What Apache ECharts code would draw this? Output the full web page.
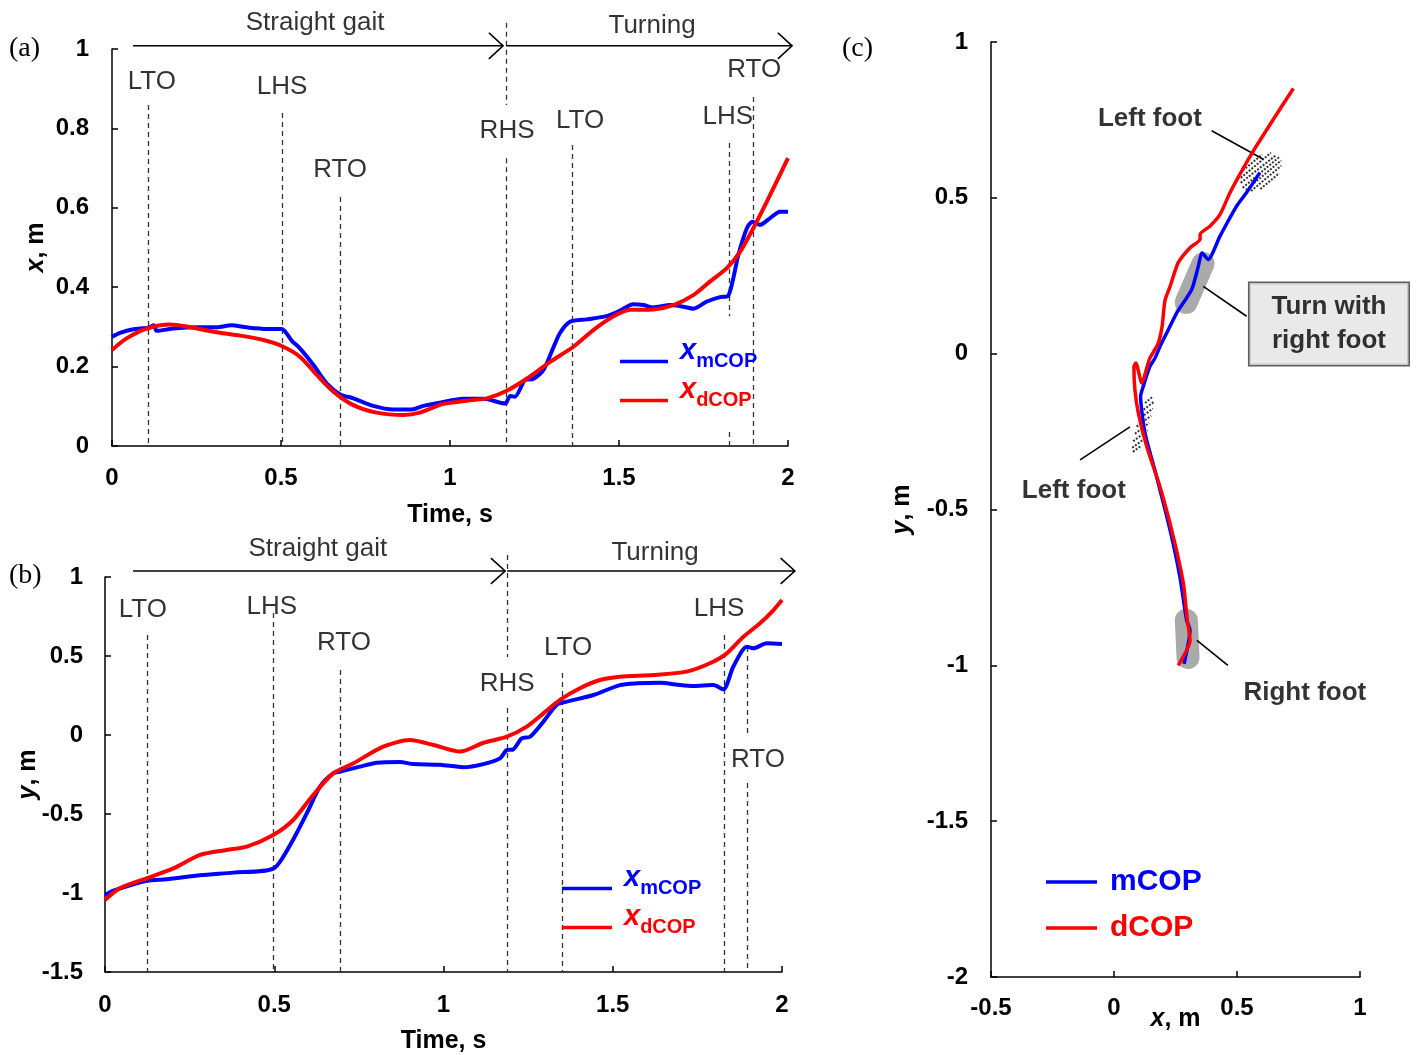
<!DOCTYPE html>
<html><head><meta charset="utf-8">
<script src="https://cdn.jsdelivr.net/npm/echarts/dist/echarts.min.js"></script>
<style>html,body{margin:0;padding:0;background:#fff}#c{width:1416px;height:1055px}</style>
</head><body><div id="c"></div>
<script>
// ---------- Panel (a): x of COP vs time ----------
const aTimeM = [0, 0.024, 0.063, 0.107, 0.124, 0.132, 0.181, 0.26, 0.31, 0.354, 0.398, 0.458, 0.502, 0.532, 0.556, 0.596, 0.635, 0.675, 0.714, 0.773, 0.832, 0.887, 0.921, 0.970, 1.039, 1.099, 1.163, 1.178, 1.192, 1.222, 1.246, 1.276, 1.301, 1.325, 1.355, 1.404, 1.463, 1.503, 1.542, 1.572, 1.601, 1.651, 1.690, 1.720, 1.760, 1.799, 1.823, 1.853, 1.878, 1.895, 1.917, 1.947, 1.976, 2.0];
const aXm = [0.275, 0.285, 0.294, 0.298, 0.304, 0.290, 0.296, 0.299, 0.299, 0.304, 0.299, 0.295, 0.295, 0.265, 0.246, 0.204, 0.158, 0.130, 0.120, 0.101, 0.092, 0.092, 0.101, 0.109, 0.119, 0.119, 0.107, 0.126, 0.124, 0.166, 0.169, 0.191, 0.238, 0.284, 0.313, 0.319, 0.327, 0.341, 0.357, 0.355, 0.349, 0.355, 0.351, 0.346, 0.364, 0.375, 0.378, 0.481, 0.548, 0.565, 0.557, 0.574, 0.590, 0.590];
const aTimeD = [0, 0.043, 0.103, 0.172, 0.221, 0.3, 0.379, 0.448, 0.502, 0.556, 0.606, 0.655, 0.714, 0.783, 0.862, 0.911, 0.98, 1.049, 1.109, 1.168, 1.237, 1.296, 1.365, 1.424, 1.483, 1.533, 1.601, 1.661, 1.720, 1.769, 1.819, 1.858, 1.897, 1.937, 1.976, 2.0];
const aXd = [0.242, 0.271, 0.296, 0.306, 0.301, 0.288, 0.278, 0.267, 0.252, 0.225, 0.179, 0.137, 0.103, 0.084, 0.078, 0.084, 0.106, 0.114, 0.120, 0.139, 0.175, 0.212, 0.250, 0.292, 0.326, 0.343, 0.344, 0.355, 0.380, 0.414, 0.448, 0.489, 0.548, 0.615, 0.683, 0.725];
// gait events (a): dashed line segments
const aEvtT   = [0.107, 0.503, 0.675, 1.166, 1.166, 1.361, 1.825, 1.825, 1.896];
const aEvtTop = [0.859, 0.839, 0.627, 1.066, 0.725, 0.758, 0.763, 0.035, 0.879];
const aEvtBot = [0, 0, 0, 0.859, 0, 0, 0.327, 0, 0];
const aLblText = ['LTO', 'LHS', 'RTO', 'RHS', 'LTO', 'LHS', 'RTO'];
const aLblT = [0.118, 0.503, 0.675, 1.169, 1.385, 1.822, 1.900];
const aLblV = [0.917, 0.904, 0.695, 0.793, 0.819, 0.829, 0.947];
const aPhaseText = ['Straight gait', 'Turning'];
const aPhaseT = [0.601, 1.598];
const aPhaseV = [1.066, 1.058];
const aArrowFrom = [0.062, 1.166];
const aArrowTo = [1.157, 2.012];
const aArrowV = 1.008;

// ---------- Panel (b): y of COP vs time ----------
const bTimeM = [0, 0.025, 0.123, 0.182, 0.281, 0.379, 0.497, 0.547, 0.596, 0.635, 0.674, 0.694, 0.753, 0.803, 0.871, 0.911, 0.99, 1.058, 1.118, 1.167, 1.187, 1.206, 1.231, 1.256, 1.295, 1.334, 1.364, 1.443, 1.521, 1.571, 1.64, 1.699, 1.738, 1.797, 1.827, 1.856, 1.896, 1.915, 1.955, 2.0];
const bYm = [-1.013, -0.985, -0.922, -0.913, -0.888, -0.871, -0.846, -0.696, -0.496, -0.327, -0.243, -0.232, -0.200, -0.175, -0.171, -0.184, -0.188, -0.204, -0.184, -0.148, -0.095, -0.091, -0.021, -0.011, 0.084, 0.190, 0.211, 0.253, 0.316, 0.327, 0.331, 0.316, 0.310, 0.316, 0.289, 0.432, 0.559, 0.549, 0.580, 0.576];
const bTimeD = [0, 0.044, 0.123, 0.202, 0.281, 0.359, 0.419, 0.497, 0.556, 0.615, 0.674, 0.734, 0.822, 0.901, 0.970, 1.049, 1.118, 1.187, 1.246, 1.295, 1.344, 1.403, 1.462, 1.521, 1.620, 1.718, 1.787, 1.837, 1.886, 1.935, 1.975, 2.0];
const bYd = [-1.044, -0.970, -0.907, -0.844, -0.759, -0.728, -0.707, -0.633, -0.538, -0.380, -0.243, -0.179, -0.074, -0.032, -0.063, -0.105, -0.049, -0.011, 0.053, 0.137, 0.222, 0.296, 0.348, 0.369, 0.380, 0.401, 0.454, 0.517, 0.622, 0.707, 0.791, 0.854];
const bEvtT   = [0.124, 0.496, 0.694, 1.188, 1.188, 1.350, 1.829, 1.897, 1.897];
const bEvtTop = [0.633, 0.772, 0.411, 1.139, 0.171, 0.392, 0.633, 0.557, -0.304];
const bEvtBot = [-1.5, -1.5, -1.5, 0.494, -1.5, -1.5, -1.5, 0.013, -1.5];
const bLblText = ['LTO', 'LHS', 'RTO', 'RHS', 'LTO', 'LHS', 'RTO'];
const bLblT = [0.112, 0.493, 0.706, 1.188, 1.368, 1.814, 1.929];
const bLblV = [0.791, 0.810, 0.582, 0.323, 0.551, 0.797, -0.158];
const bPhaseText = ['Straight gait', 'Turning'];
const bPhaseT = [0.629, 1.625];
const bPhaseV = [1.180, 1.155];
const bArrowFrom = [0.083, 1.188];
const bArrowTo = [1.182, 2.038];
const bArrowV = 1.038;

// ---------- Panel (c): COP trajectory in the plane ----------
const cXm = [0.285, 0.309, 0.295, 0.268, 0.228, 0.173, 0.126, 0.108, 0.119, 0.146, 0.167, 0.187, 0.221, 0.255, 0.316, 0.343, 0.357, 0.370, 0.383, 0.431, 0.499, 0.539, 0.593];
const cYm = [-0.995, -0.887, -0.855, -0.716, -0.566, -0.394, -0.255, -0.137, -0.105, -0.041, -0.014, 0.023, 0.077, 0.131, 0.206, 0.281, 0.324, 0.313, 0.302, 0.377, 0.474, 0.517, 0.581];
const cXd = [0.261, 0.309, 0.298, 0.282, 0.241, 0.187, 0.133, 0.099, 0.085, 0.081, 0.089, 0.113, 0.139, 0.146, 0.180, 0.196, 0.207, 0.228, 0.261, 0.309, 0.350, 0.350, 0.390, 0.431, 0.472, 0.512, 0.566, 0.648, 0.729];
const cYd = [-1.0, -0.92, -0.855, -0.737, -0.587, -0.427, -0.298, -0.191, -0.116, -0.041, -0.030, -0.094, -0.030, -0.014, 0.034, 0.090, 0.170, 0.216, 0.292, 0.340, 0.367, 0.383, 0.409, 0.447, 0.517, 0.576, 0.650, 0.752, 0.851];
const cNoteText = ['Left foot', 'Left foot', 'Right foot'];
const cNoteX = [0.146, -0.163, 0.776];
const cNoteY = [0.752, -0.441, -1.087];
const cBoxText = 'Turn with\nright foot';
const cBoxX = 0.874, cBoxY = 0.095;
const cLeaders = [
  [[0.397, 0.715], [0.607, 0.624]],
  [[0.539, 0.120], [0.363, 0.216]],
  [[-0.138, -0.341], [0.065, -0.235]],
  [[0.463, -1.0], [0.337, -0.92]]
];
const cFootprints = [
  [[0.293, 0.164], [0.362, 0.289]],
  [[0.301, -0.975], [0.294, -0.855]]
];
const cHatch = [
  [[0.524, 0.588], [0.602, 0.639]], [[0.515, 0.564], [0.638, 0.645]], [[0.515, 0.548], [0.659, 0.637]],
  [[0.523, 0.532], [0.672, 0.631]], [[0.536, 0.525], [0.680, 0.620]], [[0.557, 0.522], [0.680, 0.603]],
  [[0.595, 0.528], [0.672, 0.579]],
  [[0.126, -0.158], [0.158, -0.138]], [[0.109, -0.187], [0.161, -0.155]], [[0.099, -0.211], [0.158, -0.176]],
  [[0.092, -0.234], [0.151, -0.199]], [[0.085, -0.257], [0.143, -0.222]], [[0.078, -0.281], [0.137, -0.246]],
  [[0.074, -0.302], [0.127, -0.271]], [[0.077, -0.315], [0.110, -0.296]]
];

// ---------- build ----------
const F = '"Liberation Sans", Arial, Helvetica, sans-serif';
const BLUE = '#0000ff', RED = '#ff0000';
const zip = (a, b) => a.map((v, i) => [v, b[i]]);

function axis(gi, min, max, interval, name, gap, lblMargin) {
  return {
    type: 'value', gridIndex: gi, min: min, max: max, interval: interval,
    name: name, nameLocation: 'middle', nameGap: gap, nameMoveOverlap: false,
    nameTextStyle: { color: '#000', fontSize: 25, fontWeight: 'bold', fontFamily: F,
      rich: { i: { fontStyle: 'italic', fontWeight: 'bold', fontSize: 25, fontFamily: F, color: '#000' } } },
    splitLine: { show: false },
    axisLine: { show: true, onZero: false, lineStyle: { color: '#000', width: 1.5 } },
    axisTick: { show: true, inside: true, length: 6, lineStyle: { color: '#000', width: 1.5 } },
    axisLabel: { color: '#000', fontWeight: 'bold', fontSize: 24, fontFamily: F, margin: lblMargin }
  };
}

function eventSeries(gi, T, top, bot) {
  return {
    type: 'lines', coordinateSystem: 'cartesian2d', xAxisIndex: gi, yAxisIndex: gi, clip: false, z: 2,
    lineStyle: { color: '#333', width: 1.3, type: [5, 4], opacity: 1 },
    data: T.map((t, i) => ({ coords: [[t, top[i]], [t, bot[i]]] }))
  };
}
function arrowSeries(gi, from, to, v, hx, hy) {
  const data = [];
  from.forEach((f, i) => {
    data.push({ coords: [[f, v], [to[i], v]] });
    data.push({ coords: [[to[i] - hx, v + hy], [to[i], v], [to[i] - hx, v - hy]] });
  });
  return {
    type: 'lines', coordinateSystem: 'cartesian2d', polyline: true, xAxisIndex: gi, yAxisIndex: gi, clip: false, z: 2,
    lineStyle: { color: '#000', width: 1.6, opacity: 1 }, data: data
  };
}
function textSeries(gi, texts, xs, ys, extra) {
  return {
    type: 'scatter', xAxisIndex: gi, yAxisIndex: gi, clip: false, symbolSize: 0.1, z: 4,
    itemStyle: { color: 'rgba(255,255,255,0)' }, silent: true,
    label: Object.assign({ show: true, position: [0, 0], align: 'center', verticalAlign: 'middle', formatter: '{b}',
      color: '#000', textBorderWidth: 0, fontSize: 26, fontFamily: F }, extra || {}),
    data: texts.map((s, i) => ({ name: s, value: [xs[i], ys[i]] }))
  };
}
function curve(gi, name, xs, ys, color, w) {
  return { type: 'line', name: name, xAxisIndex: gi, yAxisIndex: gi, data: zip(xs, ys), showSymbol: false, symbol: 'none',
    smooth: 0.25, z: 3, lineStyle: { color: color, width: w }, itemStyle: { color: color } };
}

const richLeg = {
  xb: { color: BLUE, fontStyle: 'italic', fontWeight: 'bold', fontSize: 29, lineHeight: 29, fontFamily: F, padding: [0, 0, 22, 7] },
  sb: { color: BLUE, fontWeight: 'bold', fontSize: 20, lineHeight: 20, fontFamily: F },
  xr: { color: RED, fontStyle: 'italic', fontWeight: 'bold', fontSize: 29, lineHeight: 29, fontFamily: F, padding: [0, 0, 22, 7] },
  sr: { color: RED, fontWeight: 'bold', fontSize: 20, lineHeight: 20, fontFamily: F },
  cb: { color: BLUE, fontWeight: 'bold', fontSize: 30, lineHeight: 30, fontFamily: F, padding: [0, 0, 0, 8] },
  cr: { color: RED, fontWeight: 'bold', fontSize: 30, lineHeight: 30, fontFamily: F, padding: [0, 0, 0, 8] }
};
const legFmt = n => ({ a_m: '{xb|x}{sb|mCOP}', a_d: '{xr|x}{sr|dCOP}', b_m: '{xb|x}{sb|mCOP}', b_d: '{xr|x}{sr|dCOP}', c_m: '{cb|mCOP}', c_d: '{cr|dCOP}' })[n];
function legend(left, top, names, gap, w) {
  return { left: left, top: top, orient: 'vertical', icon: 'rect', itemWidth: w, itemHeight: 3.5, itemGap: gap,
    selectedMode: false, data: names, formatter: legFmt, textStyle: { rich: richLeg }, padding: 0 };
}

const option = {
  animation: false,
  backgroundColor: '#fff',
  grid: [
    { left: 112, top: 49, width: 676, height: 397 },
    { left: 105, top: 577, width: 677, height: 395 },
    { left: 991, top: 42, width: 369, height: 935 }
  ],
  xAxis: [
    axis(0, 0, 2, 0.5, 'Time, s', 57, 20),
    axis(1, 0, 2, 0.5, 'Time, s', 57, 21),
    axis(2, -0.5, 1, 0.5, '{i|x}, m', 30, 19)
  ],
  yAxis: [
    axis(0, 0, 1, 0.2, '{i|x}, m', 63, 23),
    axis(1, -1.5, 1, 0.5, '{i|y}, m', 64, 22),
    axis(2, -2, 1, 0.5, '{i|y}, m', 76, 23)
  ],
  legend: [
    legend(620, 336, ['a_m', 'a_d'], -12, 48),
    legend(562, 863, ['b_m', 'b_d'], -12, 50),
    legend(1046, 867, ['c_m', 'c_d'], 16, 51)
  ],
  graphic: [
    { type: 'text', left: 9, top: 35, style: { text: '(a)', font: '28px "Liberation Serif", "Times New Roman", serif', fill: '#000' } },
    { type: 'text', left: 9, top: 562, style: { text: '(b)', font: '28px "Liberation Serif", "Times New Roman", serif', fill: '#000' } },
    { type: 'text', left: 842, top: 35, style: { text: '(c)', font: '28px "Liberation Serif", "Times New Roman", serif', fill: '#000' } }
  ],
  series: [
    // (a)
    eventSeries(0, aEvtT, aEvtTop, aEvtBot),
    arrowSeries(0, aArrowFrom, aArrowTo, aArrowV, 0.042, 0.033),
    textSeries(0, aLblText, aLblT, aLblV),
    textSeries(0, aPhaseText, aPhaseT, aPhaseV),
    curve(0, 'a_m', aTimeM, aXm, BLUE, 4),
    curve(0, 'a_d', aTimeD, aXd, RED, 4),
    // (b)
    eventSeries(1, bEvtT, bEvtTop, bEvtBot),
    arrowSeries(1, bArrowFrom, bArrowTo, bArrowV, 0.042, 0.082),
    textSeries(1, bLblText, bLblT, bLblV),
    textSeries(1, bPhaseText, bPhaseT, bPhaseV),
    curve(1, 'b_m', bTimeM, bYm, BLUE, 4),
    curve(1, 'b_d', bTimeD, bYd, RED, 4),
    // (c)
    { type: 'lines', coordinateSystem: 'cartesian2d', polyline: true, xAxisIndex: 2, yAxisIndex: 2, z: 1,
      lineStyle: { color: '#aaaaaa', width: 23, cap: 'round', opacity: 1 },
      data: cFootprints.map(c => ({ coords: c })) },
    { type: 'lines', coordinateSystem: 'cartesian2d', xAxisIndex: 2, yAxisIndex: 2, z: 1,
      lineStyle: { color: '#333', width: 2, type: [2, 1.5], opacity: 1 },
      data: cHatch.map(c => ({ coords: c })) },
    { type: 'lines', coordinateSystem: 'cartesian2d', xAxisIndex: 2, yAxisIndex: 2, z: 2,
      lineStyle: { color: '#000', width: 1.6, opacity: 1 },
      data: cLeaders.map(c => ({ coords: c })) },
    textSeries(2, cNoteText, cNoteX, cNoteY, { fontWeight: 'bold', fontSize: 26 }),
    textSeries(2, [cBoxText], [cBoxX], [cBoxY], { fontWeight: 'bold', fontSize: 26, lineHeight: 34,
      backgroundColor: '#e4e4e4', borderColor: '#333', borderWidth: 1.5, padding: [7, 22, 7, 22] }),
    { type: 'line', name: 'c_m', xAxisIndex: 2, yAxisIndex: 2, data: zip(cXm, cYm), showSymbol: false, symbol: 'none',
      smooth: 0.2, z: 3, lineStyle: { color: BLUE, width: 3.5 }, itemStyle: { color: BLUE } },
    { type: 'line', name: 'c_d', xAxisIndex: 2, yAxisIndex: 2, data: zip(cXd, cYd), showSymbol: false, symbol: 'none',
      smooth: 0.2, z: 3, lineStyle: { color: RED, width: 3.5 }, itemStyle: { color: RED } }
  ]
};
const chart = echarts.init(document.getElementById('c'), null, { renderer: 'canvas' });
chart.setOption(option);
</script></body></html>
